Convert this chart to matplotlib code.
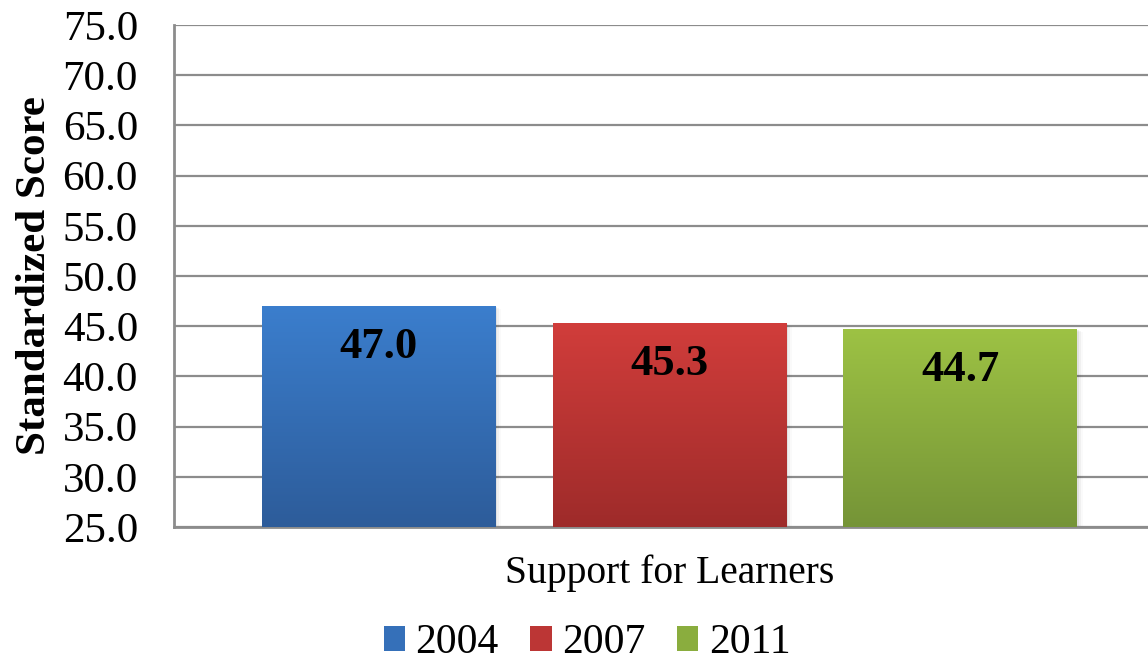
import numpy as np
import matplotlib
matplotlib.use("Agg")
import matplotlib.pyplot as plt
from matplotlib.patches import Patch
from matplotlib.colors import LinearSegmentedColormap

# Data
years = ["2004", "2007", "2011"]
scores = [47.0, 45.3, 44.7]
category = "Support for Learners"
y_ticks = [25.0, 30.0, 35.0, 40.0, 45.0, 50.0, 55.0, 60.0, 65.0, 70.0, 75.0]

# Vertical gradient (top, bottom) for each series
top_colors = ["#3b7ecd", "#d13d3b", "#9dc244"]
bottom_colors = ["#2d5c9a", "#9e2b2a", "#759437"]
mid_colors = ["#3570b9", "#bc3635", "#8aad3e"]

W, H = 1148, 662
fig = plt.figure(figsize=(W / 100, H / 100), dpi=100)
fig.patch.set_facecolor("white")

serif = ["Liberation Serif", "DejaVu Serif"]

left, right = 174, 1165
top, bottom = 25, 527
ax = fig.add_axes([left / W, 1 - bottom / H, (right - left) / W, (bottom - top) / H])
ax.set_facecolor("white")

x = np.arange(len(years)) - 1.0
width = 0.804

grad = np.linspace(0, 1, 256).reshape(-1, 1)
for xi, v, c0, c1 in zip(x, scores, top_colors, bottom_colors):
    # soft shadow to the right of the bar
    for k, a in enumerate([0.06, 0.04, 0.02]):
        off = 0.006 * (k + 1)
        ax.add_patch(plt.Rectangle((xi - width / 2 + off, 25), width, v - 25 - 0.1 * (k + 1),
                                   facecolor="black", alpha=a, edgecolor="none", zorder=2))
    cmap = LinearSegmentedColormap.from_list("g", [c0, c1])
    ax.imshow(grad, cmap=cmap, aspect="auto", origin="upper",
              extent=(xi - width / 2, xi + width / 2, 25, v), zorder=3)
    ax.text(xi, v - 4.1, f"{v:.1f}", ha="center", va="center",
            fontsize=32, fontweight="bold", family=serif, color="black", zorder=4)

ax.set_xlim(-1.703, 1.703)
ax.set_ylim(25, 75)
ax.set_yticks(y_ticks)
ax.set_yticklabels([f"{t:.1f}" for t in y_ticks], family=serif, fontsize=31)
ax.tick_params(axis="y", length=0, pad=26)
ax.set_xticks([])
ax.yaxis.grid(True, color="#8c8c8c", linewidth=1.6, zorder=1)
ax.set_axisbelow(True)
for s in ["top", "right"]:
    ax.spines[s].set_visible(False)
for s in ["left", "bottom"]:
    ax.spines[s].set_color("#8c8c8c")
    ax.spines[s].set_linewidth(2.0)

ax.set_ylabel("Standardized Score", family=serif, fontsize=31, fontweight="bold", labelpad=6)
ax.set_xlabel(category, family=serif, fontsize=28.5, labelpad=20)

handles = [Patch(facecolor=c, edgecolor="none") for c in mid_colors]
fig.legend(handles, years, loc="center", bbox_to_anchor=(587 / W, 1 - 643 / H), ncol=3,
           frameon=False, prop={"family": serif, "size": 30},
           handlelength=0.52, handleheight=0.52, handletextpad=0.25, columnspacing=0.75,
           borderpad=0, borderaxespad=0)

fig.savefig("out.png", dpi=100)
